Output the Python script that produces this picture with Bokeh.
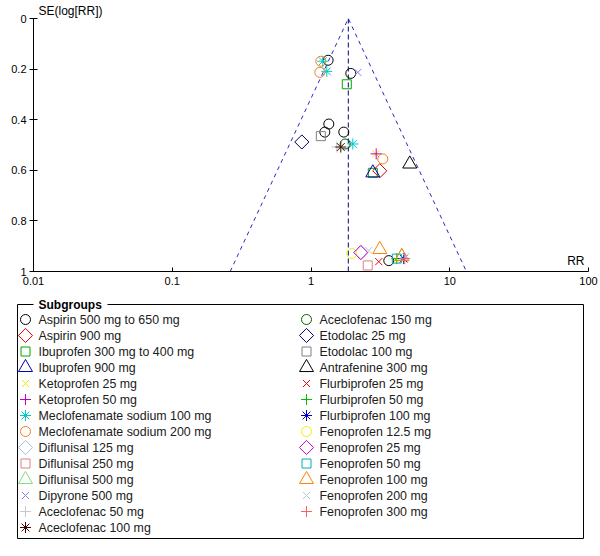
import math
from bokeh.plotting import figure
from bokeh.models import Range1d, FixedTicker, CustomJSTickFormatter, Label
from bokeh.layouts import column
from bokeh.embed import file_html
from bokeh.resources import INLINE
from bokeh.core.properties import value

# ---------------- data ----------------
subgroups = [
    "Aspirin 500 mg to 650 mg", "Aspirin 900 mg", "Ibuprofen 300 mg to 400 mg",
    "Ibuprofen 900 mg", "Ketoprofen 25 mg", "Ketoprofen 50 mg",
    "Meclofenamate sodium 100 mg", "Meclofenamate sodium 200 mg",
    "Diflunisal 125 mg", "Diflunisal 250 mg", "Diflunisal 500 mg",
    "Dipyrone 500 mg", "Aceclofenac 50 mg", "Aceclofenac 100 mg",
    "Aceclofenac 150 mg", "Etodolac 25 mg", "Etodolac 100 mg",
    "Antrafenine 300 mg", "Flurbiprofen 25 mg", "Flurbiprofen 50 mg",
    "Flurbiprofen 100 mg", "Fenoprofen 12.5 mg", "Fenoprofen 25 mg",
    "Fenoprofen 50 mg", "Fenoprofen 100 mg", "Fenoprofen 200 mg",
    "Fenoprofen 300 mg",
]
markers = ["circle", "diamond", "square", "triangle", "x", "cross", "asterisk"] * 4
colors = [
    "#000000", "#E00000", "#00A800", "#0000B0", "#E8E800", "#C000C0", "#00C8C8",
    "#F08020", "#A8C0D8", "#E08080", "#80E080", "#8080E0", "#C8C8C8", "#400000",
    "#006000", "#000060", "#808080", "#000000", "#F00000", "#00C000", "#0000C8",
    "#F0F000", "#C800C8", "#00B0B0", "#FF8000", "#B8C8D8", "#FF6060",
]
rr_values = [
    [1.935, 1.329, 1.344, 1.258, 1.723, 3.637],   # Aspirin 500-650
    [3.13],                                        # Aspirin 900
    [1.811, 2.789],                                # Ibuprofen 300-400
    [2.789],                                       # Ibuprofen 900
    [2.93],                                        # Ketoprofen 25
    [2.95],                                        # Ketoprofen 50
    [1.216, 1.30, 2.001],                          # Meclofenamate 100
    [1.177, 1.158, 3.292],                         # Meclofenamate 200
    [2.286],                                       # Diflunisal 125
    [2.564],                                       # Diflunisal 250
    [4.512],                                       # Diflunisal 500
    [2.175],                                       # Dipyrone 500
    [1.535],                                       # Aceclofenac 50
    [1.64],                                        # Aceclofenac 100
    [1.763],                                       # Aceclofenac 150
    [0.859],                                       # Etodolac 25
    [1.177],                                       # Etodolac 100
    [5.15],                                        # Antrafenine 300
    [3.08],                                        # Flurbiprofen 25
    [4.153],                                       # Flurbiprofen 50
    [4.66],                                        # Flurbiprofen 100
    [1.968],                                       # Fenoprofen 12.5
    [2.286],                                       # Fenoprofen 25
    [4.153],                                       # Fenoprofen 50
    [3.13, 4.512],                                 # Fenoprofen 100
    [2.61, 4.826],                                 # Fenoprofen 200
    [4.74],                                        # Fenoprofen 300
]
se_values = [
    [0.217, 0.165, 0.417, 0.449, 0.449, 0.957],
    [0.602],
    [0.26, 0.61],
    [0.61],
    [0.535],
    [0.535],
    [0.169, 0.209, 0.496],
    [0.169, 0.213, 0.555],
    [0.925],
    [0.976],
    [0.941],
    [0.213],
    [0.508],
    [0.508],
    [0.496],
    [0.488],
    [0.465],
    [0.575],
    [0.961],
    [0.949],
    [0.949],
    [0.929],
    [0.925],
    [0.949],
    [0.913, 0.941],
    [0.917, 0.941],
    [0.949],
]
pooled_rr = 1.857
x_ticks = [0.01, 0.1, 1, 10, 100]
y_ticks = [0, 0.2, 0.4, 0.6, 0.8, 1]

# ---------------- styles ----------------
FONT = "Liberation Sans"
marker_style = {
    "circle": ("circle", 10, 0.0),
    "diamond": ("square", 10, math.pi / 4),
    "square": ("square", 9, 0.0),
    "triangle": ("triangle", 14, 0.0),
    "x": ("x", 10, 0.0),
    "cross": ("cross", 11, 0.0),
    "asterisk": ("asterisk", 11, 0.0),
}

# ---------------- funnel plot ----------------
p = figure(width=600, height=296, x_axis_type="log",
           x_range=Range1d(0.01, 100), y_range=Range1d(1, 0),
           output_backend="svg", toolbar_location=None,
           min_border_left=33, min_border_right=12,
           min_border_top=17, min_border_bottom=25,
           title="SE(log[RR])")
p.frame_align = False
p.outline_line_color = None
p.grid.visible = False
p.background_fill_color = "white"
p.title.align = "left"
p.title.offset = 5
p.title.standoff = 2
p.title.text_font = FONT
p.title.text_font_size = "12px"
p.title.text_font_style = "normal"
p.title.text_color = "black"

# funnel limits (95% pseudo-confidence region)
se_lim = [1, 0, 1]
rr_lim = [pooled_rr * math.exp(-1.96 * se_lim[0]), pooled_rr,
          pooled_rr * math.exp(1.96 * se_lim[2])]
p.line(rr_lim, se_lim, line_color="#2828C8", line_dash="4 4", line_width=1)
p.line([pooled_rr, pooled_rr], [0, 1], line_color="#000080", line_dash="5 3", line_width=1)

for i, name in enumerate(subgroups):
    m, s, a = marker_style[markers[i]]
    p.scatter(rr_values[i], se_values[i], marker=m, size=s, angle=a,
              line_color=colors[i], fill_color=None, line_width=1)

# axes
p.xaxis.ticker = FixedTicker(ticks=x_ticks)
p.xaxis.formatter = CustomJSTickFormatter(code="return String(tick);")
p.yaxis.ticker = FixedTicker(ticks=y_ticks)
p.yaxis.formatter = CustomJSTickFormatter(code="return String(Math.round(tick*100)/100);")
for ax in (p.xaxis, p.yaxis):
    ax.minor_tick_line_color = None
    ax.major_label_text_font = FONT
    ax.major_label_text_font_size = "11px"
    ax.major_label_text_color = "black"
    ax.axis_line_color = "black"
    ax.major_tick_line_color = "black"
p.xaxis.major_tick_in = 4
p.xaxis.major_tick_out = 0
p.xaxis.major_label_standoff = 5
p.yaxis.major_tick_in = 4
p.yaxis.major_tick_out = 4
p.yaxis.major_label_standoff = 3

p.add_layout(Label(x=93.6, y=0.985, text="RR", text_baseline="bottom",
                   text_align="right", text_font=FONT, text_font_size="12px",
                   text_color="black"))

# ---------------- legend ----------------
leg = figure(width=600, height=260, x_range=Range1d(0, 600), y_range=Range1d(260, 0),
             output_backend="svg", toolbar_location=None, min_border=0,
             x_axis_location=None, y_axis_location=None)
leg.frame_align = False
leg.grid.visible = False
leg.outline_line_color = None

leg.line([33, 17, 17, 583, 583, 107], [8, 8, 242, 242, 8, 8], line_color="black", line_width=1)
leg.text([38], [8], text=["Subgroups"], text_font=value(FONT), text_font_size=value("12px"),
         text_font_style="bold", text_baseline="middle", text_color="black")

n_left = 14
tx, ty = [], []
for i, name in enumerate(subgroups):
    colx = 0 if i < n_left else 1
    row = i if i < n_left else i - n_left
    y = 23 + 16 * row
    mx = 25 if colx == 0 else 306
    m, s, a = marker_style[markers[i]]
    leg.scatter([mx], [y], marker=m, size=s, angle=a,
                line_color=colors[i], fill_color=None, line_width=1)
    tx.append(mx + 13); ty.append(y)
leg.text(tx, ty, text=subgroups, text_font=value(FONT), text_font_size=value("12.4px"),
         text_baseline="middle", text_color="#202020")

layout = column(p, leg)
open("out.html", "w").write(file_html(layout, INLINE))
